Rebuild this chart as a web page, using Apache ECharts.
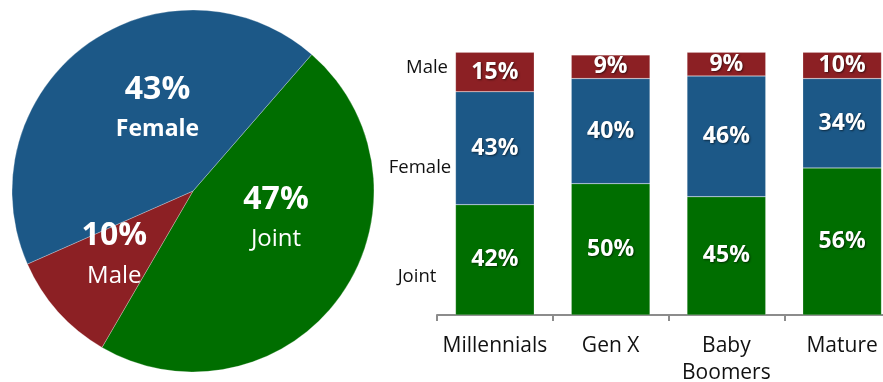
<!DOCTYPE html>
<html>
<head>
<meta charset="utf-8">
<script src="https://cdn.jsdelivr.net/npm/echarts@6/dist/echarts.min.js"></script>
<style>
  html, body { margin: 0; padding: 0; background: #fff; }
  #chart { width: 883px; height: 382px; }
</style>
</head>
<body>
<div id="chart"></div>
<script>
// Overall split of account ownership
const pieNames = ['Joint', 'Male', 'Female'];
const pieValues = [47, 10, 43];

// Split by generation
const generations = ['Millennials', 'Gen X', 'Baby\nBoomers', 'Mature'];
const jointValues = [42, 50, 45, 56];
const femaleValues = [43, 40, 46, 34];
const maleValues = [15, 9, 9, 10];
const stackNames = ['Male', 'Female', 'Joint'];

const COLORS = { Joint: '#006E00', Female: '#1C5887', Male: '#8C2024' };
const FONT = '"Open Sans", "Noto Sans", sans-serif';

// nudges for the pie's inside labels
const pieLabelShift = [[7, -26], [-9, 3], [20, -6]];
// positions of the row captions beside the first column
const captionPos = { Male: [427, 68], Female: [420, 168], Joint: [417, 277] };

const chart = echarts.init(document.getElementById('chart'), null, { renderer: 'canvas' });

const barLabel = {
  show: true,
  position: 'inside',
  formatter: '{c}%',
  color: '#fff',
  fontFamily: FONT,
  fontWeight: 'bold',
  fontSize: 23,
  textShadowColor: 'rgba(0,0,0,0.55)',
  textShadowBlur: 2,
  textShadowOffsetX: 1,
  textShadowOffsetY: 1
};

function barSeries(name, values) {
  return {
    type: 'bar',
    name: name,
    stack: 'gen',
    barCategoryGap: '32%',
    data: values,
    itemStyle: { color: COLORS[name], borderColor: 'rgba(255,255,255,0.35)', borderWidth: 0.5 },
    label: barLabel
  };
}

const option = {
  animation: false,
  textStyle: { fontFamily: FONT },
  // the last column runs past the right edge of the page
  grid: { left: 437, width: 463, top: 52.3, bottom: 67, outerBoundsMode: 'none', containLabel: false },
  xAxis: {
    type: 'category',
    data: generations,
    axisLine: { lineStyle: { color: '#8c8c8c', width: 2 } },
    axisTick: { show: true, length: 6, lineStyle: { color: '#8c8c8c', width: 2 } },
    axisLabel: { color: '#111', fontSize: 21, fontFamily: FONT, lineHeight: 27, margin: 18, interval: 0 }
  },
  yAxis: {
    type: 'value',
    min: 0,
    max: 100,
    show: false
  },
  graphic: stackNames.map(n => ({
    type: 'text',
    x: captionPos[n][0],
    y: captionPos[n][1],
    style: {
      text: n,
      fill: '#111',
      font: '18.5px ' + FONT,
      align: 'center',
      verticalAlign: 'middle'
    }
  })),
  series: [
    {
      type: 'pie',
      center: [193, 191],
      radius: 181,
      startAngle: 49,
      clockwise: true,
      data: pieNames.map((n, i) => ({
        name: n,
        value: pieValues[i],
        itemStyle: { color: COLORS[n] }
      })),
      itemStyle: { borderColor: 'rgba(255,255,255,0.45)', borderWidth: 0.6 },
      label: {
        show: true,
        position: 'inside',
        color: '#fff',
        formatter: p => '{pct|' + p.value + '%}\n{' + (p.name === 'Female' ? 'nameB' : 'name') + '|' + p.name + '}',
        rich: {
          pct: { fontFamily: FONT, fontWeight: 'bold', fontSize: 32, lineHeight: 40, color: '#fff' },
          nameB: { fontFamily: FONT, fontWeight: 'bold', fontSize: 23, lineHeight: 40, color: '#fff' },
          name: { fontFamily: FONT, fontSize: 24, lineHeight: 40, color: '#fff' }
        }
      },
      labelLine: { show: false },
      labelLayout: p => ({ dx: pieLabelShift[p.dataIndex][0], dy: pieLabelShift[p.dataIndex][1] }),
      emphasis: { disabled: true }
    },
    barSeries('Joint', jointValues),
    barSeries('Female', femaleValues),
    barSeries('Male', maleValues)
  ]
};

chart.setOption(option);
</script>
</body>
</html>
